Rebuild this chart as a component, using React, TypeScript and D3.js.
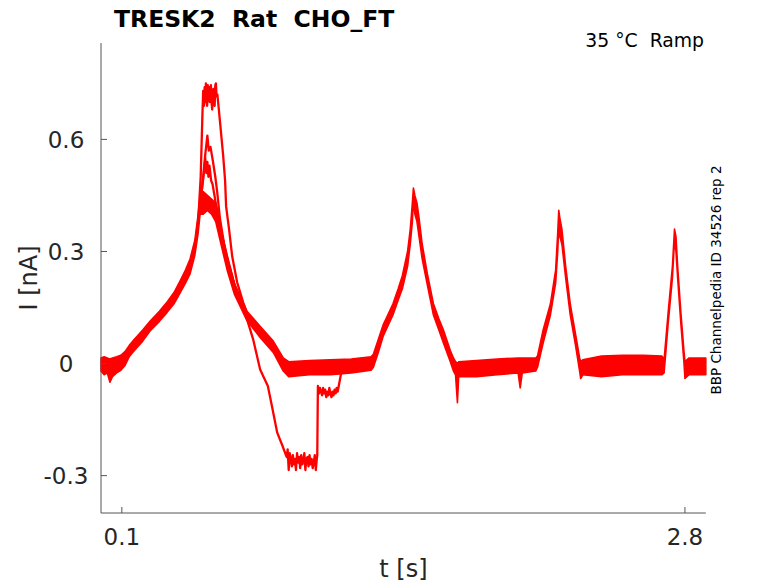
import React from "react";
import * as d3 from "d3";

// ---- Data ----
// Common noisy band shared by all sweeps: time [s], lower and upper envelope [nA]
const bandT = [0.000, 0.015, 0.030, 0.043, 0.055, 0.075, 0.095, 0.115, 0.135, 0.160, 0.200, 0.235, 0.280, 0.317, 0.350, 0.380, 0.405, 0.427, 0.450, 0.466, 0.475, 0.490, 0.510, 0.530, 0.550, 0.571, 0.605, 0.640, 0.700, 0.763, 0.826, 0.874, 0.900, 1.000, 1.100, 1.200, 1.295, 1.306, 1.330, 1.354, 1.375, 1.400, 1.425, 1.445, 1.470, 1.483, 1.493, 1.498, 1.505, 1.515, 1.525, 1.540, 1.565, 1.594, 1.620, 1.642, 1.675, 1.690, 1.700, 1.709, 1.715, 1.800, 1.900, 2.000, 2.010, 2.020, 2.085, 2.093, 2.120, 2.155, 2.180, 2.190, 2.195, 2.200, 2.210, 2.228, 2.250, 2.275, 2.295, 2.300, 2.310, 2.400, 2.500, 2.600, 2.690, 2.700, 2.720, 2.740, 2.750, 2.757, 2.765, 2.780, 2.795, 2.800, 2.820, 2.900];
const bandLo = [-0.020, -0.030, -0.025, -0.050, -0.035, -0.025, -0.018, -0.005, 0.018, 0.035, 0.060, 0.087, 0.113, 0.137, 0.160, 0.190, 0.215, 0.240, 0.290, 0.350, 0.400, 0.400, 0.410, 0.400, 0.380, 0.330, 0.250, 0.185, 0.115, 0.070, 0.030, -0.020, -0.035, -0.030, -0.030, -0.025, -0.018, -0.010, 0.030, 0.075, 0.100, 0.130, 0.170, 0.200, 0.260, 0.320, 0.380, 0.440, 0.400, 0.380, 0.340, 0.280, 0.210, 0.130, 0.090, 0.055, 0.005, -0.020, -0.030, -0.105, -0.035, -0.035, -0.030, -0.025, -0.065, -0.025, -0.020, -0.010, 0.055, 0.130, 0.215, 0.300, 0.370, 0.340, 0.320, 0.230, 0.130, 0.050, -0.020, -0.040, -0.030, -0.035, -0.030, -0.030, -0.030, -0.025, 0.110, 0.230, 0.330, 0.300, 0.230, 0.110, 0.005, -0.040, -0.030, -0.030];
const bandHi = [0.015, 0.018, 0.015, 0.012, 0.015, 0.018, 0.022, 0.032, 0.048, 0.065, 0.090, 0.113, 0.140, 0.165, 0.190, 0.222, 0.250, 0.280, 0.330, 0.400, 0.450, 0.460, 0.450, 0.440, 0.430, 0.370, 0.290, 0.215, 0.140, 0.100, 0.060, 0.015, 0.005, 0.008, 0.010, 0.012, 0.018, 0.025, 0.065, 0.105, 0.130, 0.160, 0.200, 0.235, 0.300, 0.360, 0.430, 0.470, 0.450, 0.430, 0.390, 0.320, 0.240, 0.160, 0.120, 0.090, 0.035, 0.015, 0.005, 0.000, 0.005, 0.008, 0.012, 0.015, 0.015, 0.015, 0.015, 0.020, 0.090, 0.160, 0.250, 0.350, 0.410, 0.390, 0.360, 0.260, 0.160, 0.080, 0.015, 0.005, 0.010, 0.020, 0.022, 0.022, 0.020, 0.010, 0.140, 0.260, 0.360, 0.340, 0.260, 0.140, 0.035, 0.005, 0.015, 0.015];

// Sweep with the tallest first peak
const sweepAT = [0.450, 0.466, 0.478, 0.486, 0.490, 0.494, 0.497, 0.500, 0.503, 0.506, 0.509, 0.512, 0.515, 0.518, 0.521, 0.524, 0.527, 0.530, 0.533, 0.536, 0.539, 0.542, 0.545, 0.548, 0.551, 0.554, 0.558, 0.565, 0.571, 0.586, 0.595, 0.600, 0.614, 0.629, 0.653, 0.682, 0.700];
const sweepAI = [0.310, 0.380, 0.500, 0.660, 0.730, 0.690, 0.740, 0.700, 0.750, 0.705, 0.690, 0.745, 0.715, 0.740, 0.700, 0.725, 0.745, 0.700, 0.680, 0.730, 0.735, 0.700, 0.690, 0.745, 0.750, 0.715, 0.720, 0.680, 0.645, 0.555, 0.490, 0.420, 0.360, 0.287, 0.217, 0.163, 0.135];

// Sweep that dips to about -0.27 nA
const sweepBT = [0.450, 0.470, 0.490, 0.500, 0.510, 0.517, 0.525, 0.537, 0.548, 0.557, 0.570, 0.590, 0.610, 0.640, 0.690, 0.730, 0.763, 0.800, 0.820, 0.845, 0.870, 0.880, 0.890, 0.895, 0.900, 0.905, 0.910, 0.915, 0.920, 0.925, 0.930, 0.935, 0.940, 0.945, 0.950, 0.955, 0.960, 0.965, 0.970, 0.975, 0.980, 0.985, 0.990, 0.995, 1.000, 1.005, 1.010, 1.015, 1.020, 1.025, 1.030, 1.034, 1.037, 1.040, 1.045, 1.050, 1.055, 1.060, 1.065, 1.070, 1.075, 1.080, 1.085, 1.090, 1.095, 1.100, 1.105, 1.110, 1.115, 1.120, 1.125, 1.130, 1.135, 1.140, 1.150, 1.157, 1.170];
const sweepBI = [0.310, 0.400, 0.500, 0.560, 0.610, 0.570, 0.580, 0.540, 0.500, 0.460, 0.390, 0.320, 0.270, 0.210, 0.137, 0.064, -0.016, -0.060, -0.115, -0.185, -0.220, -0.235, -0.250, -0.230, -0.285, -0.240, -0.255, -0.275, -0.245, -0.270, -0.255, -0.285, -0.240, -0.265, -0.250, -0.280, -0.245, -0.270, -0.260, -0.240, -0.285, -0.255, -0.250, -0.275, -0.245, -0.270, -0.255, -0.280, -0.265, -0.245, -0.285, -0.260, -0.245, -0.060, -0.080, -0.065, -0.075, -0.085, -0.065, -0.080, -0.070, -0.090, -0.075, -0.085, -0.065, -0.080, -0.090, -0.075, -0.085, -0.070, -0.080, -0.065, -0.075, -0.060, -0.030, -0.016, -0.010];

// Sweep with the medium first peak
const sweepCT = [0.466, 0.485, 0.495, 0.500, 0.505, 0.510, 0.515, 0.520, 0.528, 0.535, 0.550, 0.570, 0.600, 0.640];
const sweepCI = [0.380, 0.470, 0.520, 0.550, 0.510, 0.540, 0.500, 0.530, 0.490, 0.480, 0.430, 0.370, 0.290, 0.210];

const xTicks = [0.1, 2.8];
const xTickLabels = ["0.1", "2.8"];
const yTicks = [0.6, 0.3, 0, -0.3];
const yTickLabels = ["0.6", "0.3", "0", "-0.3"];

const titleText = "TRESK2  Rat  CHO_FT";
const condText = "35 °C  Ramp";
const sideText = "BBP Channelpedia ID 34526 rep 2";
const xLabel = "t [s]";
const yLabel = "I [nA]";

export default function App() {
  const W = 778, H = 583;
  const left = 101, right = 705.8, top = 43, bottom = 513;
  const x = d3.scaleLinear().domain([0, 2.9]).range([left, right]);
  const y = d3.scaleLinear().domain([-0.4, 0.858]).range([bottom, top]);

  const bandIdx = bandT.map((_, i) => i);
  const area = d3
    .area<number>()
    .x((i) => x(bandT[i]))
    .y0((i) => y(bandLo[i]))
    .y1((i) => y(bandHi[i]));

  const line = d3
    .line<[number, number]>()
    .x((d) => x(d[0]))
    .y((d) => y(d[1]));

  const sweeps: [number[], number[]][] = [
    [sweepAT, sweepAI],
    [sweepBT, sweepBI],
    [sweepCT, sweepCI],
  ];

  const red = "#ff0000";
  const axisColor = "#555555";
  const textColor = "#262626";
  const font = "DejaVu Sans, sans-serif";

  return (
    <svg
      width={W}
      height={H}
      style={{ position: "absolute", left: 0, top: 0, background: "#fff" }}
      fontFamily={font}
    >
      <rect x={0} y={0} width={W} height={H} fill="#fff" />
      {/* data */}
      <path d={area(bandIdx) || ""} fill={red} stroke={red} strokeWidth={1.6} strokeLinejoin="round" />
      {sweeps.map(([ts, vs], k) => (
        <path
          key={k}
          d={line(ts.map((t, i) => [t, vs[i]] as [number, number])) || ""}
          fill="none"
          stroke={red}
          strokeWidth={2.3}
          strokeLinejoin="round"
        />
      ))}

      {/* axes */}
      <line x1={left} x2={left} y1={top} y2={bottom} stroke={axisColor} strokeWidth={1} />
      <line x1={left} x2={right} y1={bottom} y2={bottom} stroke={axisColor} strokeWidth={1} />
      {yTicks.map((v, i) => (
        <g key={"yt" + i}>
          <line x1={left} x2={left + 6} y1={y(v)} y2={y(v)} stroke={axisColor} />
          <text x={66} y={y(v)} dy="0.36em" textAnchor="middle" fontSize={23} fill={textColor}>
            {yTickLabels[i]}
          </text>
        </g>
      ))}
      {xTicks.map((v, i) => (
        <g key={"xt" + i}>
          <line x1={x(v)} x2={x(v)} y1={bottom} y2={bottom - 6} stroke={axisColor} />
          <text x={x(v)} y={545} textAnchor="middle" fontSize={23} fill={textColor}>
            {xTickLabels[i]}
          </text>
        </g>
      ))}

      {/* labels */}
      <text x={(left + right) / 2} y={577} textAnchor="middle" fontSize={24} fill={textColor}>
        {xLabel}
      </text>
      <text
        transform={`translate(37,${(top + bottom) / 2}) rotate(-90)`}
        textAnchor="middle"
        fontSize={24}
        fill={textColor}
      >
        {yLabel}
      </text>
      <text x={114} y={27} fontSize={23.5} fontWeight="bold" fill="#000" style={{ whiteSpace: "pre" }}>
        {titleText}
      </text>
      <text x={704} y={47} textAnchor="end" fontSize={18.8} fill="#000" style={{ whiteSpace: "pre" }}>
        {condText}
      </text>
      <text
        transform={`translate(721,280) rotate(-90)`}
        textAnchor="middle"
        fontSize={13.5}
        fill="#000"
      >
        {sideText}
      </text>
    </svg>
  );
}
